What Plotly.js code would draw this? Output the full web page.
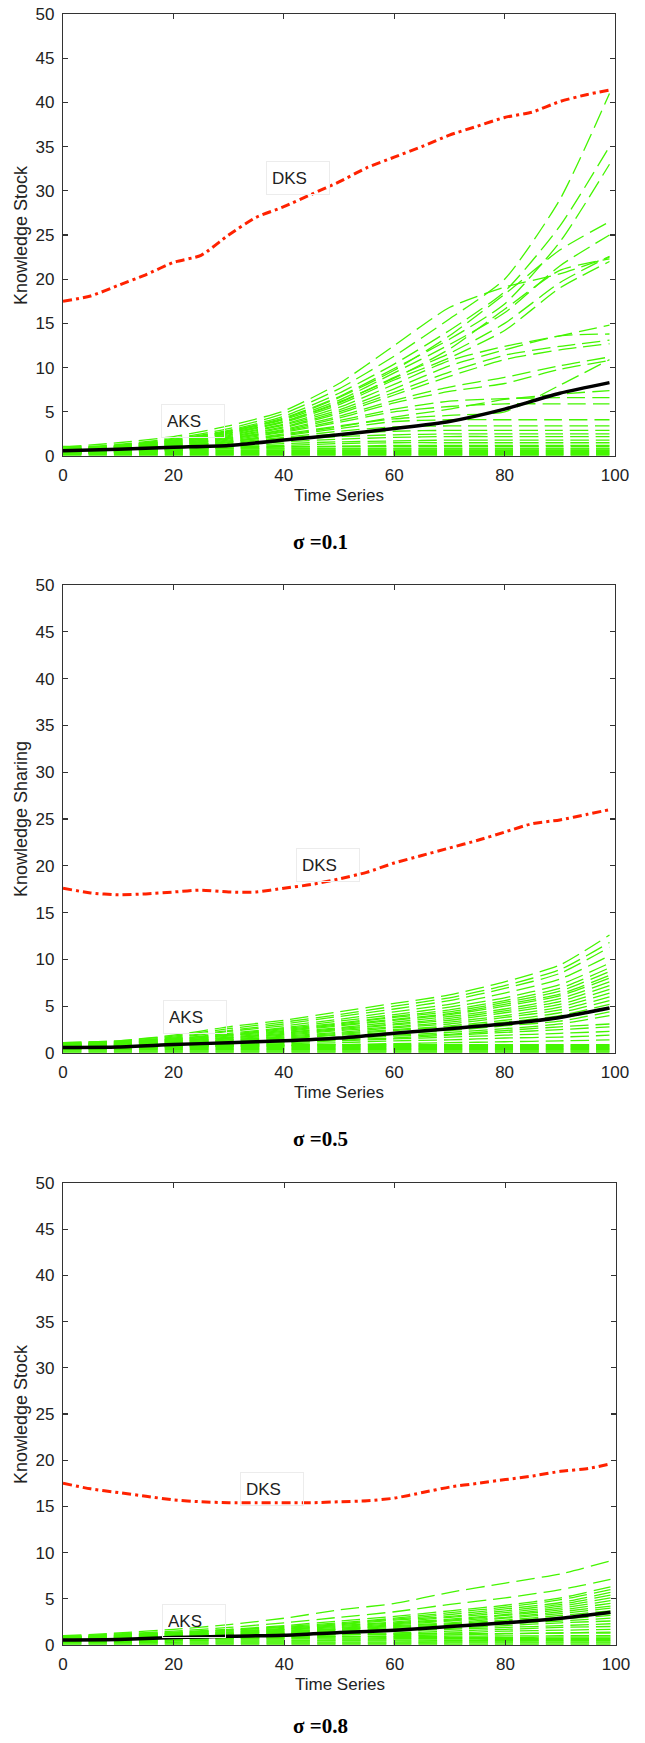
<!DOCTYPE html>
<html><head><meta charset="utf-8">
<script src="https://cdn.plot.ly/plotly-3.0.1.min.js"></script>
<style>html,body{margin:0;padding:0;background:#fff;} #chart{width:645px;height:1743px;}</style>
</head><body><div id="chart"></div>
<script>
// ---------------- data ----------------
const t = [0,10,20,30,40,50,60,70,80,90,99];
const tRed = [0,5,10,15,20,25,30,35,40,45,50,55,60,65,70,75,80,85,90,95,99];
const xTicks = [0,20,40,60,80,100];
const yTicks = [0,5,10,15,20,25,30,35,40,45,50];
const captions = ['σ =0.1','σ =0.5','σ =0.8'];
const yTitles = ['Knowledge Stock','Knowledge Sharing','Knowledge Stock'];
const xTitle = 'Time Series';
const labelNames = ['DKS','AKS'];

// panel 1 (sigma = 0.1)
const dks1 = [17.5,18.1,19.3,20.5,21.9,22.7,25.0,27.0,28.2,29.6,31.0,32.6,33.8,35.0,36.3,37.3,38.3,38.9,40.1,40.9,41.4];
const aks1 = [0.6,0.77,1.0,1.2,1.8,2.4,3.1,3.9,5.3,7.1,8.3];
const green1 = [
  [0.9,1.3,2.0,3.1,4.8,7.6,11.3,15.5,20.0,29.0,41.0],
  [0.8,1.2,1.9,2.9,4.5,7.1,10.4,14.2,18.6,26.0,35.0],
  [0.8,1.2,1.8,2.8,4.3,6.7,9.9,13.2,17.2,24.2,33.0],
  [1.0,1.5,2.2,3.4,5.1,8.2,12.5,16.8,19.1,20.6,22.5],
  [0.7,1.1,1.8,2.8,4.2,6.6,9.7,13.6,18.3,23.3,26.5],
  [0.7,1.1,1.7,2.7,4.1,6.3,9.4,12.6,16.2,21.5,25.0],
  [0.6,1.0,1.6,2.6,3.9,6.0,8.9,11.6,15.0,19.6,22.6],
  [0.6,1.0,1.6,2.5,3.8,5.8,8.6,11.1,14.2,19.0,22.0],
  [0.7,1.1,1.7,2.6,3.9,6.1,8.8,12.1,16.6,21.0,22.3],
  [0.6,1.0,1.5,2.4,3.6,5.5,8.1,10.8,12.4,13.6,14.8],
  [0.6,0.9,1.5,2.3,3.5,5.2,7.6,10.2,12.0,13.6,13.8],
  [0.5,0.9,1.4,2.2,3.3,5.0,7.2,9.5,11.4,12.4,13.1],
  [0.5,0.9,1.4,2.1,3.2,4.8,6.9,9.0,10.9,12.0,12.7],
  [0.5,0.8,1.3,2.0,3.0,4.5,6.3,7.8,8.9,10.2,11.2],
  [0.5,0.8,1.3,2.0,2.9,4.3,6.0,7.3,8.2,9.8,10.8],
  [0.4,0.8,1.2,1.9,2.8,4.0,5.3,6.2,6.5,6.6,6.6],
  [0.4,0.7,1.2,1.8,2.7,3.8,5.0,5.6,5.9,5.9,5.9],
  [0.4,0.7,1.1,1.7,2.5,3.4,4.2,4.6,5.0,8.0,10.9],
  [0.4,0.7,1.1,1.6,2.4,3.3,4.4,5.3,6.4,7.0,7.4],
  [0.4,0.7,1.0,1.6,2.3,3.1,3.9,4.1,4.1,4.1,4.1],
  [0.3,0.6,1.0,1.5,2.1,2.8,3.3,3.4,3.4,3.4,3.4],
  [0.3,0.6,0.9,1.4,2.0,2.5,2.8,2.9,2.9,2.9,2.9],
  [0.3,0.6,0.9,1.3,1.8,2.2,2.4,2.5,2.5,2.5,2.5],
  [0.3,0.5,0.8,1.2,1.6,1.9,2.1,2.2,2.2,2.2,2.2],
  [0.3,0.5,0.8,1.1,1.4,1.6,1.7,1.8,1.8,1.8,1.8],
  [0.2,0.4,0.7,1.0,1.2,1.4,1.5,1.5,1.5,1.5,1.5],
  [0.2,0.4,0.6,0.9,1.0,1.1,1.2,1.2,1.2,1.2,1.2],
  [1.1,1.1,1.1,1.1,1.1,1.1,1.1,1.1,1.1,1.1,1.1],
  [0.9,0.9,0.9,0.9,0.9,0.9,0.9,0.9,0.9,0.9,0.9],
  [0.8,0.8,0.8,0.8,0.8,0.8,0.8,0.8,0.8,0.8,0.8],
  [0.7,0.7,0.7,0.7,0.7,0.7,0.7,0.7,0.7,0.7,0.7],
  [0.6,0.6,0.6,0.6,0.6,0.6,0.6,0.6,0.6,0.6,0.6],
  [0.5,0.5,0.5,0.5,0.5,0.5,0.5,0.5,0.5,0.5,0.5],
  [0.4,0.4,0.4,0.4,0.4,0.4,0.4,0.4,0.4,0.4,0.4],
  [0.3,0.3,0.3,0.3,0.3,0.3,0.3,0.3,0.3,0.3,0.3],
  [0.2,0.2,0.2,0.2,0.2,0.2,0.2,0.2,0.2,0.2,0.2],
  [0.1,0.1,0.1,0.1,0.1,0.1,0.1,0.1,0.1,0.1,0.1]
];

// panel 2 (sigma = 0.5)
const dks2 = [17.6,17.1,16.9,17.0,17.2,17.4,17.2,17.2,17.6,18.0,18.6,19.3,20.3,21.1,21.9,22.7,23.6,24.5,24.9,25.5,26.0];
const aks2 = [0.6,0.65,0.9,1.1,1.3,1.6,2.1,2.6,3.1,3.8,4.8];
const green2 = [
  [1.1,1.3,1.9,2.8,3.5,4.4,5.3,6.2,7.6,9.4,12.6],
  [1.1,1.3,1.8,2.6,3.3,4.1,5.0,5.9,7.2,8.9,11.8],
  [1.0,1.2,1.7,2.4,3.1,3.9,4.7,5.6,6.9,8.5,11.3],
  [1.0,1.2,1.6,2.3,2.9,3.6,4.4,5.2,6.4,7.9,10.4],
  [1.0,1.1,1.5,2.1,2.7,3.4,4.1,4.9,5.9,7.3,9.6],
  [0.9,1.1,1.5,2.0,2.6,3.2,3.9,4.6,5.6,6.9,9.1],
  [0.9,1.1,1.4,1.9,2.5,3.1,3.8,4.4,5.4,6.6,8.7],
  [0.9,1.0,1.4,1.9,2.4,3.0,3.6,4.2,5.2,6.3,8.3],
  [0.9,1.0,1.3,1.8,2.3,2.9,3.5,4.1,5.0,6.1,8.0],
  [0.8,1.0,1.3,1.7,2.2,2.7,3.3,3.9,4.7,5.8,7.6],
  [0.8,0.9,1.2,1.6,2.1,2.6,3.1,3.7,4.5,5.5,7.2],
  [0.8,0.9,1.2,1.6,2.0,2.5,3.0,3.5,4.3,5.2,6.8],
  [0.8,0.9,1.1,1.5,1.9,2.4,2.8,3.3,4.0,4.9,6.4],
  [0.7,0.8,1.1,1.4,1.8,2.2,2.7,3.1,3.8,4.6,6.0],
  [0.7,0.8,1.0,1.4,1.7,2.1,2.5,2.9,3.5,4.3,5.6],
  [0.7,0.8,1.0,1.3,1.6,2.0,2.4,2.8,3.3,4.0,5.2],
  [0.7,0.8,1.0,1.2,1.5,1.9,2.2,2.6,3.1,3.7,4.8],
  [0.6,0.7,0.9,1.2,1.4,1.7,2.1,2.4,2.9,3.4,4.4],
  [0.6,0.7,0.9,1.1,1.3,1.6,1.9,2.2,2.6,3.1,4.0],
  [0.6,0.7,0.8,1.0,1.2,1.5,1.8,2.0,2.4,2.8,3.1],
  [0.5,0.6,0.8,1.0,1.2,1.4,1.6,1.9,2.2,2.5,2.8],
  [0.5,0.6,0.7,0.9,1.1,1.3,1.5,1.7,1.9,2.1,2.3],
  [0.5,0.6,0.7,0.8,1.0,1.1,1.3,1.4,1.6,1.7,1.9],
  [0.4,0.5,0.6,0.7,0.8,0.9,1.0,1.1,1.2,1.3,1.4],
  [0.9,0.9,0.9,0.9,0.9,0.9,0.9,0.9,0.9,0.9,0.9],
  [0.8,0.8,0.8,0.8,0.8,0.8,0.8,0.8,0.8,0.8,0.8],
  [0.7,0.7,0.7,0.7,0.7,0.7,0.7,0.7,0.7,0.7,0.7],
  [0.6,0.6,0.6,0.6,0.6,0.6,0.6,0.6,0.6,0.6,0.6],
  [0.5,0.5,0.5,0.5,0.5,0.5,0.5,0.5,0.5,0.5,0.5],
  [0.4,0.4,0.4,0.4,0.4,0.4,0.4,0.4,0.4,0.4,0.4],
  [0.3,0.3,0.3,0.3,0.3,0.3,0.3,0.3,0.3,0.3,0.3],
  [0.2,0.2,0.2,0.2,0.2,0.2,0.2,0.2,0.2,0.2,0.2],
  [0.1,0.1,0.1,0.1,0.1,0.1,0.1,0.1,0.1,0.1,0.1]
];

// panel 3 (sigma = 0.8)
const dks3 = [17.5,16.9,16.5,16.1,15.7,15.5,15.4,15.4,15.4,15.4,15.5,15.6,15.9,16.5,17.1,17.5,17.9,18.3,18.8,19.1,19.6];
const aks3 = [0.55,0.6,0.8,0.95,1.05,1.35,1.6,2.0,2.4,2.9,3.55];
const green3 = [
  [1.0,1.3,1.7,2.2,2.9,3.8,4.5,5.7,6.7,7.7,9.1],
  [0.9,1.2,1.5,1.9,2.4,3.0,3.6,4.4,5.1,6.0,7.1],
  [0.9,1.1,1.4,1.7,2.1,2.6,3.1,3.7,4.3,5.1,6.3],
  [0.9,1.1,1.3,1.6,2.0,2.4,2.9,3.5,4.1,4.9,6.0],
  [0.8,1.0,1.3,1.6,1.9,2.3,2.8,3.3,3.9,4.6,5.7],
  [0.8,1.0,1.2,1.5,1.8,2.2,2.7,3.1,3.7,4.4,5.4],
  [0.8,1.0,1.2,1.4,1.7,2.1,2.5,3.0,3.5,4.2,5.1],
  [0.8,0.9,1.1,1.4,1.7,2.0,2.4,2.8,3.3,4.0,4.8],
  [0.7,0.9,1.1,1.3,1.6,1.9,2.3,2.7,3.2,3.8,4.5],
  [0.7,0.9,1.0,1.3,1.5,1.8,2.2,2.6,3.0,3.6,4.2],
  [0.7,0.8,1.0,1.2,1.5,1.7,2.1,2.4,2.9,3.4,4.0],
  [0.7,0.8,1.0,1.2,1.4,1.7,2.0,2.3,2.7,3.2,3.7],
  [0.6,0.8,0.9,1.1,1.3,1.6,1.9,2.2,2.6,3.0,3.4],
  [0.6,0.7,0.9,1.1,1.3,1.5,1.8,2.1,2.4,2.8,3.2],
  [0.6,0.7,0.9,1.0,1.2,1.4,1.7,2.0,2.3,2.6,2.9],
  [0.6,0.7,0.8,1.0,1.2,1.4,1.6,1.8,2.1,2.4,2.6],
  [0.5,0.6,0.8,0.9,1.1,1.3,1.5,1.7,1.9,2.1,2.3],
  [0.5,0.6,0.7,0.9,1.0,1.2,1.3,1.5,1.7,1.9,2.0],
  [0.5,0.6,0.7,0.8,0.9,1.1,1.2,1.3,1.5,1.6,1.7],
  [0.4,0.5,0.6,0.7,0.8,0.9,1.0,1.1,1.2,1.3,1.4],
  [0.9,0.9,0.95,1.0,1.05,1.1,1.15,1.2,1.25,1.3,1.3],
  [0.8,0.8,0.82,0.85,0.88,0.9,0.92,0.95,0.98,1.0,1.0],
  [0.7,0.7,0.71,0.73,0.75,0.77,0.79,0.81,0.83,0.85,0.85],
  [0.6,0.6,0.62,0.63,0.65,0.66,0.68,0.7,0.7,0.72,0.72],
  [0.5,0.5,0.51,0.52,0.53,0.54,0.55,0.56,0.57,0.58,0.58],
  [0.4,0.4,0.41,0.42,0.43,0.44,0.45,0.46,0.46,0.47,0.47],
  [0.3,0.3,0.3,0.31,0.31,0.32,0.32,0.33,0.33,0.33,0.33],
  [0.2,0.2,0.2,0.2,0.21,0.21,0.21,0.22,0.22,0.22,0.22],
  [0.1,0.1,0.1,0.1,0.1,0.1,0.1,0.1,0.1,0.1,0.1]
];

// label anchor positions (data coords) : [DKS x, DKS y, AKS x, AKS y]
const labelPos1 = [42.5,31.4,23.5,4.0];
const labelPos2 = [48.0,20.1,24.0,3.9];
const labelPos3 = [37.8,16.9,23.7,2.6];

// ---------------- layout ----------------
const W = 645, H = 1743;
const panels = [
  {l:63, r:615, t:14,   b:456,  cap:542,  dks:dks1, aks:aks1, green:green1, lab:labelPos1},
  {l:63, r:615, t:585,  b:1053, cap:1139, dks:dks2, aks:aks2, green:green2, lab:labelPos2},
  {l:63, r:616, t:1183, b:1645, cap:1726, dks:dks3, aks:aks3, green:green3, lab:labelPos3}
];
const FONT = 'Liberation Sans, Arial, sans-serif';
const traces = [];
const layout = {
  width: W, height: H, margin:{l:0,r:0,t:0,b:0},
  paper_bgcolor:'#ffffff', plot_bgcolor:'#ffffff', showlegend:false,
  annotations: []
};
panels.forEach((p, i) => {
  const sfx = i === 0 ? '' : String(i+1);
  const xa = 'x' + sfx, ya = 'y' + sfx;
  p.green.forEach(g => traces.push({
    x: t, y: g, xaxis: xa, yaxis: ya, type:'scatter', mode:'lines', hoverinfo:'skip',
    line:{color:'#44f500', width:1.3, dash:'18.4px,7px', shape:'spline', smoothing:0.6}
  }));
  traces.push({x:t, y:p.aks, xaxis:xa, yaxis:ya, type:'scatter', mode:'lines',
    line:{color:'#000000', width:3.5, shape:'spline', smoothing:0.6}});
  traces.push({x:tRed, y:p.dks, xaxis:xa, yaxis:ya, type:'scatter', mode:'lines',
    line:{color:'#ff2200', width:3, dash:'9px,4px,3px,4px', shape:'spline', smoothing:0.6}});

  const axCommon = {
    showline:true, linecolor:'#333', linewidth:1.2, mirror:'ticks',
    ticks:'inside', ticklen:5, tickwidth:1.1, tickcolor:'#333',
    showgrid:false, zeroline:false, fixedrange:true,
    tickfont:{family:FONT, size:17, color:'#222'}
  };
  layout['xaxis' + sfx] = Object.assign({}, axCommon, {
    domain:[p.l/W, p.r/W], anchor: ya, range:[0,100], tickvals: xTicks,
    ticktext: xTicks.map(String), ticklabelstandoff: 3
  });
  layout['yaxis' + sfx] = Object.assign({}, axCommon, {
    domain:[1 - p.b/H, 1 - p.t/H], anchor: xa, range:[0,50], tickvals: yTicks,
    ticktext: yTicks.map(String), ticklabelstandoff: 4
  });
  // axis titles and caption
  layout.annotations.push({
    xref:'paper', yref:'paper', x:(p.l+p.r)/2/W, y:1-(p.b+39)/H,
    text:xTitle, showarrow:false, xanchor:'center', yanchor:'middle',
    font:{family:FONT, size:17, color:'#222'}
  });
  layout.annotations.push({
    xref:'paper', yref:'paper', x:21/W, y:1-((p.t+p.b)/2)/H,
    text:yTitles[i], showarrow:false, textangle:-90, xanchor:'center', yanchor:'middle',
    font:{family:FONT, size:18, color:'#222'}
  });
  layout.annotations.push({
    xref:'paper', yref:'paper', x:320/W, y:1-p.cap/H,
    text:'<b>' + captions[i] + '</b>', showarrow:false, xanchor:'center', yanchor:'middle',
    font:{family:'Liberation Serif, Times New Roman, serif', size:21, color:'#000'}
  });
  // DKS / AKS labels
  [0,1].forEach(k => layout.annotations.push({
    xref:xa, yref:ya, x:p.lab[2*k], y:p.lab[2*k+1], text:labelNames[k],
    showarrow:false, xanchor:'center', yanchor:'middle', align:'left',
    width:52, height:22, borderpad:5, bordercolor:'#ececec', borderwidth:1,
    font:{family:FONT, size:17, color:'#222'}
  }));
});

Plotly.newPlot('chart', traces, layout, {staticPlot:true, displayModeBar:false});
</script>
</body></html>
